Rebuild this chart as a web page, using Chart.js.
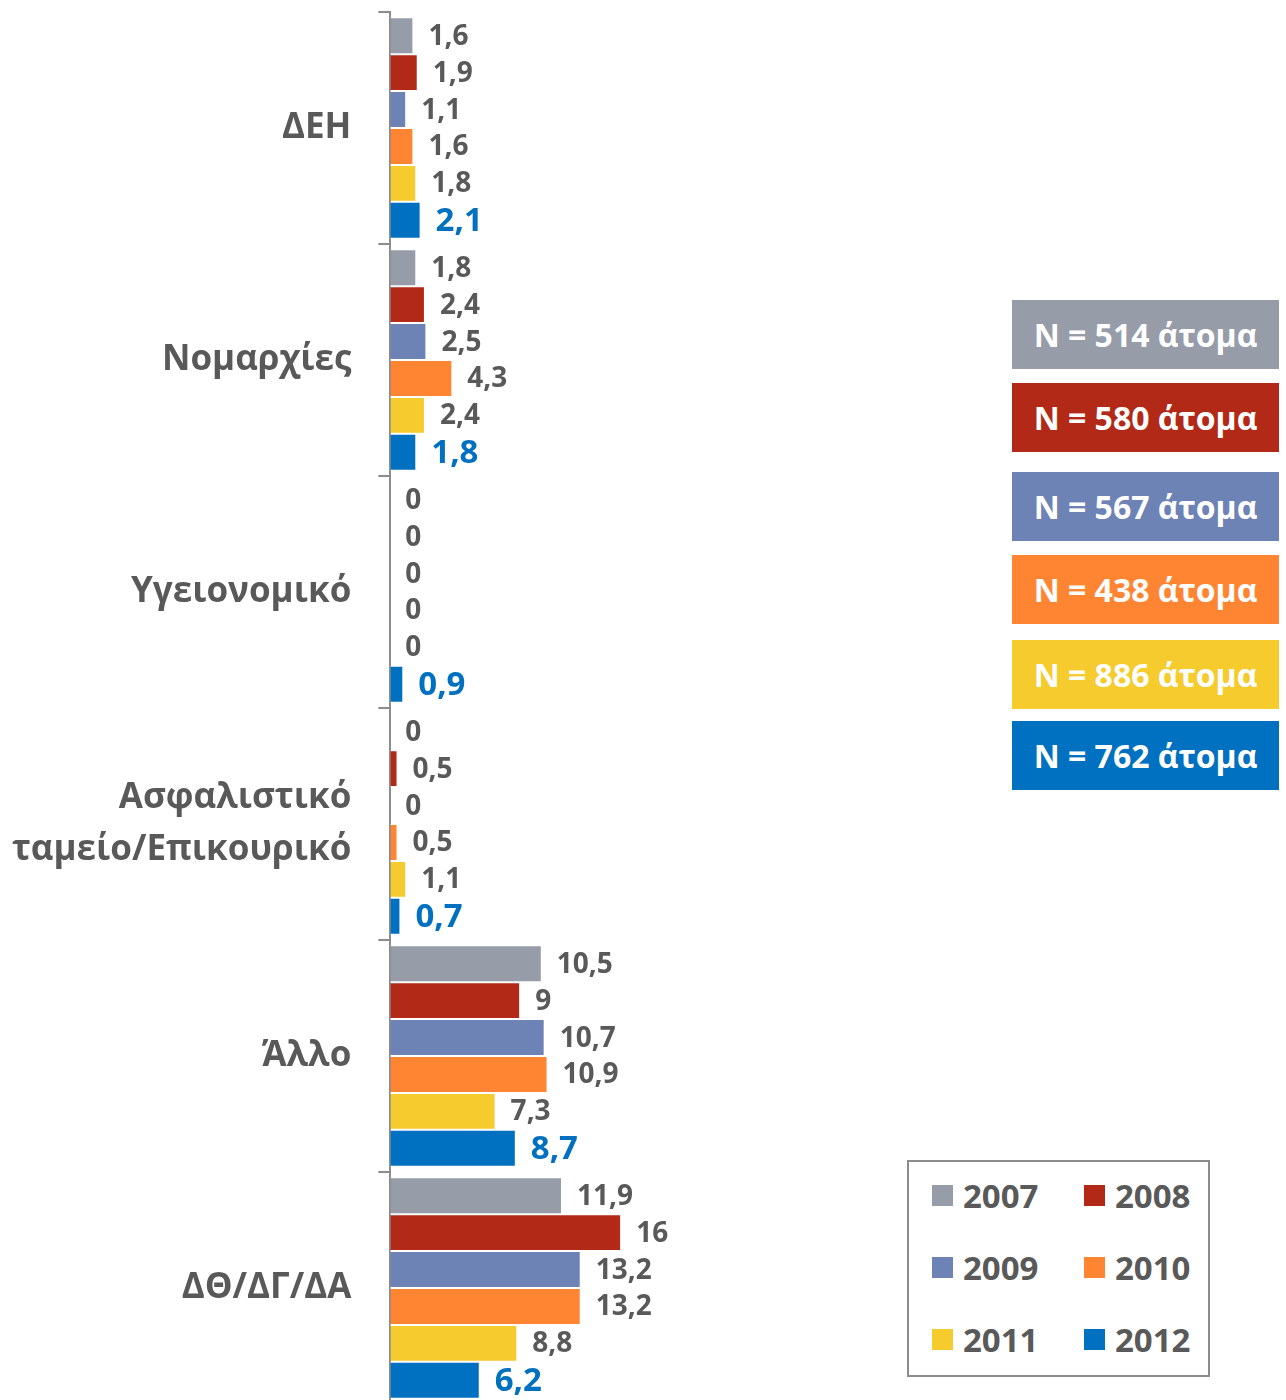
<!DOCTYPE html>
<html>
<head>
<meta charset="utf-8">
<script src="https://cdn.jsdelivr.net/npm/chart.js@4.4.1/dist/chart.umd.min.js"></script>
<style>
  html, body { margin: 0; padding: 0; background: #fff; overflow: hidden; }
  body { width: 1286px; height: 1400px; position: relative; font-family: "Open Sans", sans-serif; }
  #wrap { position: absolute; left: 0; top: 0; width: 800px; height: 1404px; }
  .nbox { position: absolute; left: 1012px; width: 267px; height: 69px; color: #fff;
          font-weight: bold; font-size: 32px; display: flex; align-items: center; justify-content: center; }
  #yearLegend { position: absolute; left: 907px; top: 1160px; width: 299px; height: 213px;
                border: 2px solid #8c8c8c; }
  .item { position: absolute; display: flex; align-items: center; font-weight: bold; font-size: 33px; color: #595959; }
  .sw { width: 21px; height: 21px; margin-right: 10px; }
</style>
</head>
<body>
<div id="wrap"><canvas id="chart"></canvas></div>
<div id="boxes"></div>
<div id="yearLegend"></div>
<script>
const categories = ["ΔΕΗ", "Νομαρχίες", "Υγειονομικό", ["Ασφαλιστικό", "ταμείο/Επικουρικό"], "Άλλο", "ΔΘ/ΔΓ/ΔΑ"];
const years = ["2007", "2008", "2009", "2010", "2011", "2012"];
const colors = ["#969CA8", "#B22A17", "#6D82B5", "#FF8533", "#F5CB2E", "#0070C0"];

const v2007 = [1.6, 1.8, 0, 0, 10.5, 11.9];
const v2008 = [1.9, 2.4, 0, 0.5, 9, 16];
const v2009 = [1.1, 2.5, 0, 0, 10.7, 13.2];
const v2010 = [1.6, 4.3, 0, 0.5, 10.9, 13.2];
const v2011 = [1.8, 2.4, 0, 1.1, 7.3, 8.8];
const v2012 = [2.1, 1.8, 0.9, 0.7, 8.7, 6.2];

const sampleSizes = ["N = 514 άτομα", "N = 580 άτομα", "N = 567 άτομα", "N = 438 άτομα", "N = 886 άτομα", "N = 762 άτομα"];

const allValues = [v2007, v2008, v2009, v2010, v2011, v2012];

// value labels next to the bars
const barLabels = {
  id: "barLabels",
  afterDatasetsDraw(chart) {
    const ctx = chart.ctx;
    ctx.save();
    ctx.textAlign = "left";
    ctx.textBaseline = "middle";
    chart.data.datasets.forEach((ds, i) => {
      const meta = chart.getDatasetMeta(i);
      const last = i === chart.data.datasets.length - 1;
      ctx.font = last ? "bold 33px 'Open Sans'" : "bold 28px 'Open Sans'";
      ctx.fillStyle = last ? "#0070C0" : "#595959";
      meta.data.forEach((bar, j) => {
        const txt = String(ds.data[j]).replace(".", ",");
        ctx.fillText(txt, bar.x + 15, bar.y + 1);
      });
    });
    ctx.restore();
  }
};

new Chart(document.getElementById("chart"), {
  type: "bar",
  data: {
    labels: categories,
    datasets: years.map((y, i) => ({
      label: y,
      data: allValues[i],
      backgroundColor: colors[i],
      borderColor: "#ffffff",
      borderWidth: 1,
      barPercentage: 1,
      categoryPercentage: 0.955
    }))
  },
  options: {
    indexAxis: "y",
    responsive: true,
    maintainAspectRatio: false,
    animation: false,
    layout: { padding: { top: 12, right: 0, bottom: 0, left: -15 } },
    plugins: { legend: { display: false }, tooltip: { enabled: false } },
    scales: {
      x: { min: 0, max: 28.4, display: false },
      y: {
        afterFit(scale) { scale.paddingTop = 0; scale.paddingBottom = 0; },
        grid: { drawOnChartArea: false, drawTicks: true, tickLength: 12, color: "#8c8c8c", lineWidth: 2, offset: true },
        border: { color: "#8c8c8c", width: 2 },
        ticks: {
          color: "#595959",
          padding: 27,
          font: { family: "Open Sans", size: 35, weight: "bold", lineHeight: 1.5 }
        }
      }
    }
  },
  plugins: [barLabels]
});

// N boxes
const nTops = [300, 383, 472, 555, 640, 721];
const boxes = document.getElementById("boxes");
sampleSizes.forEach((t, i) => {
  const d = document.createElement("div");
  d.className = "nbox";
  d.style.top = nTops[i] + "px";
  d.style.background = colors[i];
  d.textContent = t;
  boxes.appendChild(d);
});

// year legend
const leg = document.getElementById("yearLegend");
years.forEach((y, i) => {
  const d = document.createElement("div");
  d.className = "item";
  d.style.left = (i % 2 === 0 ? 23 : 175) + "px";
  d.style.top = (Math.floor(i / 2) * 72 + 11) + "px";
  d.innerHTML = '<span class="sw" style="background:' + colors[i] + '"></span>' + y;
  leg.appendChild(d);
});
</script>
</body>
</html>
